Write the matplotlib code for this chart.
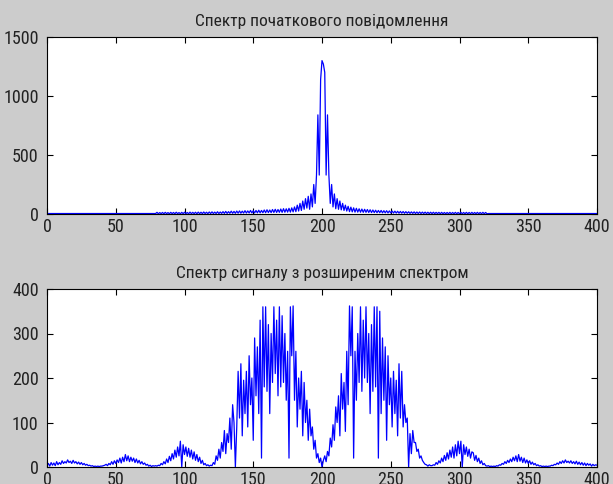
import matplotlib
matplotlib.use("Agg")
import matplotlib.pyplot as plt
from matplotlib import font_manager
import numpy as np

title_top = "Спектр початкового повідомлення"
title_bottom = "Спектр сигналу з розширеним спектром"

x_ticks = [0, 50, 100, 150, 200, 250, 300, 350, 400]
y_ticks_top = [0, 500, 1000, 1500]
y_ticks_bottom = [0, 100, 200, 300, 400]

# Spectrum of original message (samples 0..400)
top_vals = (
    [4] * 80
    + [14, 2, 12, 3, 13, 2, 14, 3, 12, 2,
       14, 3, 13, 2, 15, 3, 12, 2, 14, 3,
       15, 3, 13, 2, 16, 3, 14, 3, 15, 2,
       16, 3, 15, 3, 17, 4, 15, 3, 17, 4,
       18, 4, 16, 4, 19, 4, 17, 5, 20, 5,
       22, 5, 20, 6, 24, 6, 22, 6, 25, 7,
       26, 7, 24, 8, 28, 8, 26, 9, 30, 9]
    + [28, 9, 30, 10, 32, 10, 30, 11, 34, 11,
       36, 12, 34, 12, 38, 13, 40, 13, 38, 14,
       42, 14, 45, 15, 44, 16, 48, 16, 52, 18,
       60, 20, 75, 25, 90, 30, 110, 40, 130, 50,
       150, 40, 170, 60, 250, 90, 330, 840, 330, 1140,
       1300, 1270, 1200, 330, 840, 330, 90, 250, 60, 170,
       45, 130, 40, 110, 35, 90, 30, 75, 25, 65,
       20, 58, 18, 52, 16, 48, 16, 44, 15, 42,
       14, 40, 14, 38, 13, 36, 12, 34, 12, 32,
       11, 30, 11, 30, 10, 28, 10, 28, 9, 26]
    + [9, 25, 8, 24, 8, 23, 7, 22, 7, 21,
       6, 20, 6, 19, 5, 18, 5, 18, 4, 17,
       4, 17, 4, 16, 4, 16, 3, 15, 3, 15,
       3, 15, 3, 14, 3, 14, 2, 14, 2, 13,
       2, 13, 2, 14, 2, 13, 2, 14, 2, 13,
       2, 14, 2, 13, 2, 14, 2, 13, 2, 14,
       2, 13, 2, 14, 2, 13, 2, 14, 2, 13,
       2]
    + [4] * 80
)

# Spectrum of spread-spectrum signal (samples 0..400)
bottom_vals = [
    3, 8, 2, 10, 4, 9, 3, 12, 5, 10,
    6, 14, 8, 12, 9, 16, 10, 13, 8, 15,
    9, 12, 7, 11, 6, 10, 5, 8, 4, 6,
    3, 4, 2, 3, 1, 2, 1, 2, 1, 2,
    2, 3, 4, 6, 3, 8, 5, 12, 6, 14,
    8, 16, 10, 20, 9, 22, 12, 28, 14, 25,
    12, 22, 13, 20, 10, 18, 9, 15, 7, 12,
    6, 9, 4, 6, 2, 4, 1, 3, 2, 3,
    2, 4, 3, 8, 5, 12, 7, 18, 10, 24,
    14, 30, 18, 38, 22, 45, 25, 58, 0, 50,
    28, 45, 24, 42, 22, 38, 18, 34, 15, 28,
    12, 22, 8, 15, 5, 8, 3, 5, 2, 4,
    3, 10, 6, 25, 15, 40, 20, 55, 35, 82,
    30, 75, 55, 110, 40, 140, 100, 0, 90, 215,
    110, 232, 70, 195, 120, 215, 90, 250, 140, 200,
    60, 290, 160, 270, 120, 330, 20, 360, 180, 360,
    170, 320, 120, 300, 190, 360, 210, 330, 160, 360,
    180, 340, 190, 300, 150, 260, 20, 360, 250, 362,
    150, 260, 90, 200, 130, 215, 70, 190, 100, 150,
    60, 130, 70, 90, 40, 60, 20, 30, 10, 20,
    0, 15, 25, 12, 35, 25, 65, 45, 95, 60,
    135, 100, 160, 70, 210, 130, 190, 80, 260, 140,
    362, 250, 360, 20, 260, 150, 300, 190, 360, 170,
    330, 200, 360, 190, 300, 120, 320, 170, 360, 180,
    360, 20, 350, 120, 290, 150, 270, 60, 250, 140,
    200, 90, 215, 120, 195, 70, 232, 110, 215, 90,
    140, 100, 110, 0, 75, 30, 82, 55, 55, 35,
    40, 20, 25, 15, 10, 6, 5, 2, 5, 3,
    3, 5, 4, 10, 6, 14, 9, 20, 12, 26,
    15, 32, 18, 38, 22, 45, 20, 50, 25, 58,
    30, 58, 0, 50, 28, 45, 24, 40, 20, 34,
    32, 15, 26, 12, 20, 8, 14, 5, 8, 3,
    2, 3, 1, 2, 1, 2, 1, 3, 2, 5,
    4, 8, 6, 12, 8, 15, 10, 18, 12, 22,
    14, 25, 12, 28, 13, 22, 10, 20, 9, 16,
    8, 14, 6, 11, 5, 8, 3, 5, 2, 3,
    1, 2, 1, 2, 1, 2, 2, 4, 3, 6,
    5, 9, 6, 12, 8, 14, 9, 16, 10, 13,
    9, 14, 8, 12, 7, 13, 6, 11, 5, 10,
    4, 9, 3, 8, 4, 7, 2, 6, 3, 5,
    4,
]

x_top = np.arange(len(top_vals))
x_bottom = np.arange(len(bottom_vals))

# pick a narrow font if one is installed
available = {f.name for f in font_manager.fontManager.ttflist}
narrow = None
for cand in ["Liberation Sans Narrow", "DejaVu Sans Condensed", "Roboto Condensed",
             "Open Sans Condensed", "Noto Sans Condensed"]:
    if cand in available:
        narrow = cand
        break
if narrow is None:
    fam = ["Liberation Sans", "DejaVu Sans"]
    tick_size = 11
    title_size = 10.5
else:
    fam = [narrow, "DejaVu Sans"]
    tick_size = 13
    title_size = 12.5

W, H = 613, 484
fig = plt.figure(figsize=(W / 100, H / 100), dpi=100, facecolor="#cccccc")


def make_axes(rect, xs, ys, title, yticks, ymax):
    ax = fig.add_axes(rect, facecolor="white")
    ax.plot(xs, ys, color=(0, 0, 1), linewidth=0.9)
    ax.set_xlim(0, 400)
    ax.set_ylim(0, ymax)
    ax.set_xticks(x_ticks)
    ax.set_yticks(yticks)
    ax.tick_params(direction="in", top=True, right=True, length=4,
                   width=0.8, labelsize=tick_size, colors="black")
    ax.tick_params(axis="x", pad=3)
    ax.tick_params(axis="y", pad=6)
    for lab in ax.get_xticklabels() + ax.get_yticklabels():
        lab.set_family(fam)
        lab.set_color("#222222")
    for s in ax.spines.values():
        s.set_linewidth(0.8)
        s.set_color("black")
    ax.set_title(title, fontsize=title_size, family=fam, pad=8, color="#222222")
    return ax


def rect(l, t, r, b):
    return [l / W, 1 - b / H, (r - l) / W, (b - t) / H]


make_axes(rect(47, 37, 597, 214), x_top, top_vals, title_top, y_ticks_top, 1500)
make_axes(rect(47, 289, 597, 467), x_bottom, bottom_vals, title_bottom, y_ticks_bottom, 400)

fig.savefig("out.png", dpi=100, facecolor=fig.get_facecolor())
